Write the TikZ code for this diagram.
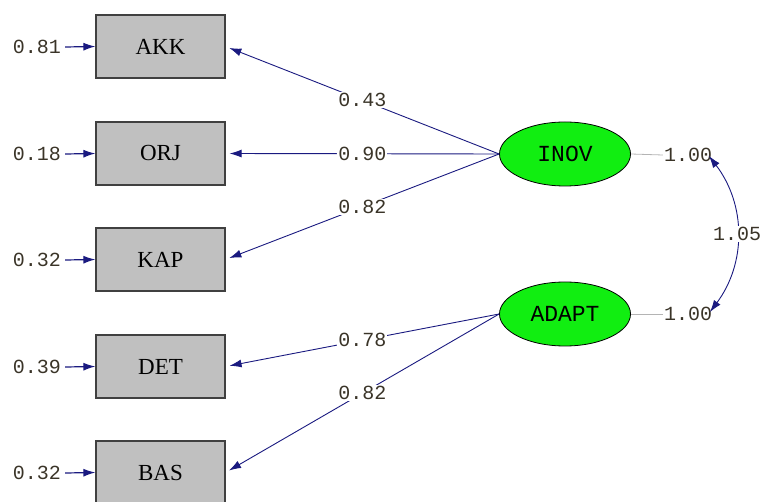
\documentclass[tikz,border=0pt]{standalone}
\usepackage{fontspec}
\setmainfont{Liberation Serif}
\newfontfamily\monof{Liberation Mono}
\usetikzlibrary{arrows.meta,shapes.geometric}
\definecolor{navy}{HTML}{1A1A80}
\definecolor{boxgray}{HTML}{C0C0C0}
\definecolor{latgreen}{HTML}{11EE11}
\definecolor{numcol}{HTML}{3A3428}
\definecolor{thingray}{HTML}{B4B4B4}
\begin{document}
\begin{tikzpicture}[x=1pt,y=-1pt,
  obs/.style={draw=black!75, line width=1.2pt, fill=boxgray, minimum width=129pt, minimum height=63pt, inner sep=0pt, font=\fontsize{23}{23}\selectfont},
  lat/.style={ellipse, draw=black, line width=0.8pt, fill=latgreen, minimum width=131pt, minimum height=64pt, inner sep=0pt, font=\monof\fontsize{23}{23}\selectfont},
  num/.style={font=\monof\fontsize{20}{20}\selectfont, text=numcol, inner sep=1pt},
  lbl/.style={num, fill=white},
  pathline/.style={draw=navy, line width=0.9pt, -{Latex[length=12pt,width=8pt]}, shorten >=4pt},
  errline/.style={draw=navy, line width=1.2pt, -{Latex[length=12pt,width=8pt]}},
  varline/.style={draw=thingray, line width=0.8pt}
]
\useasboundingbox (0,0) rectangle (776,502);

% observed variables
\node[obs] (AKK) at (160.5,46.5) {AKK};
\node[obs] (ORJ) at (160.5,153.5) {ORJ};
\node[obs] (KAP) at (160.5,259.5) {KAP};
\node[obs] (DET) at (160.5,366.5) {DET};
\node[obs] (BAS) at (160.5,472.5) {BAS};

% error variances
\node[num] (eAKK) at (37,47) {0.81};
\node[num] (eORJ) at (37,154) {0.18};
\node[num] (eKAP) at (37,260) {0.32};
\node[num] (eDET) at (37,367) {0.39};
\node[num] (eBAS) at (37,473) {0.32};
\foreach \v in {AKK,ORJ,KAP,DET,BAS}
  \draw[errline] (e\v.east) ++(3pt,0) -- (\v.west);

% latent variables
\node[lat] (INOV) at (565,154) {INOV};
\node[lat] (ADAPT) at (565,314) {ADAPT};

% variances of latents
\node[num] (vI) at (688,155) {1.00};
\node[num] (vA) at (688,314) {1.00};
\draw[varline] (INOV.east) -- (vI.west);
\draw[varline] (ADAPT.east) -- (vA.west);

% loadings
\draw[pathline] (INOV.west) -- node[lbl] {0.43} (AKK.east);
\draw[pathline] (INOV.west) -- node[lbl] {0.90} (ORJ.east);
\draw[pathline] (INOV.west) -- node[lbl] {0.82} (KAP.east);
\draw[pathline] (ADAPT.west) -- node[lbl] {0.78} (DET.east);
\draw[pathline] (ADAPT.west) -- node[lbl] {0.82} (BAS.east);

% covariance
\coordinate (c1) at (709,156);
\coordinate (c2) at (710,312);
\draw[draw=navy, line width=0.9pt, {Latex[length=12pt,width=8pt]}-{Latex[length=12pt,width=8pt]}]
  (c1) to[bend left=37] node[lbl] {1.05} (c2);
\end{tikzpicture}
\end{document}
